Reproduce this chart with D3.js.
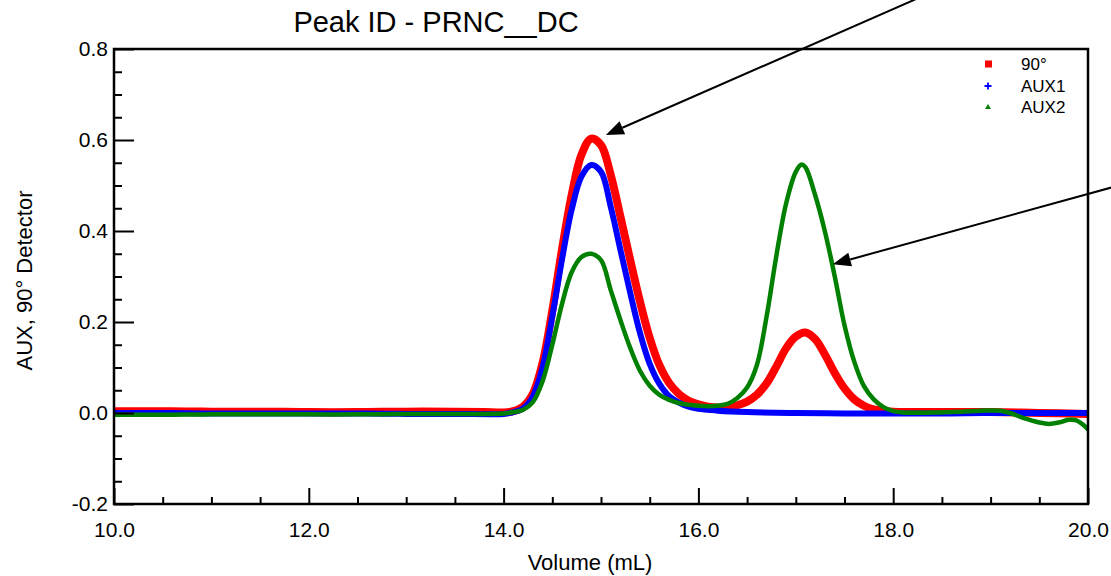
<!DOCTYPE html>
<html>
<head>
<meta charset="utf-8">
<script src="https://cdn.jsdelivr.net/npm/d3@7"></script>
<style>
  html, body { margin: 0; padding: 0; background: #fff; }
  svg { display: block; font-family: "Liberation Sans", Arial, sans-serif; }
</style>
</head>
<body>
<svg id="chart" width="1111" height="576"></svg>
<script>
// ---------- data ----------
const title = "Peak ID - PRNC__DC";
const xLabel = "Volume (mL)";
const yLabel = "AUX, 90° Detector";
const xMajorTicks = [10, 12, 14, 16, 18, 20];
const yMajorTicks = [-0.2, 0.0, 0.2, 0.4, 0.6, 0.8];
const seriesNames = ["90°", "AUX1", "AUX2"];
const seriesColors = ["#ff0000", "#0000ff", "#008000"];

// volume (mL) / value pairs
const red90 = [
  [10.0,0.004],[10.5,0.004],[11.0,0.003],[11.5,0.003],[12.0,0.002],[12.5,0.002],[13.0,0.003],[13.5,0.003],
  [13.8,0.002],[14.0,0.001],[14.1,0.004],[14.2,0.014],[14.3,0.042],[14.4,0.110],[14.5,0.225],[14.6,0.360],
  [14.7,0.480],[14.8,0.568],[14.9,0.603],[15.0,0.589],[15.1,0.523],[15.2,0.431],[15.3,0.336],[15.4,0.245],
  [15.5,0.165],[15.6,0.105],[15.7,0.066],[15.8,0.042],[15.9,0.027],[16.0,0.019],[16.1,0.014],[16.2,0.012],
  [16.3,0.013],[16.4,0.017],[16.5,0.025],[16.6,0.040],[16.7,0.065],[16.8,0.102],[16.9,0.142],[17.0,0.168],
  [17.1,0.177],[17.2,0.162],[17.3,0.128],[17.4,0.088],[17.5,0.054],[17.6,0.030],[17.7,0.016],[17.8,0.008],
  [17.9,0.005],[18.0,0.003],[18.5,0.002],[19.0,0.002],[19.5,0.000],[20.0,-0.002]
];
const blueAux1 = [
  [10.0,0.000],[10.5,0.000],[11.0,-0.001],[11.5,-0.001],[12.0,-0.001],[12.5,-0.001],[13.0,-0.002],[13.5,-0.002],
  [14.0,-0.002],[14.1,0.002],[14.2,0.010],[14.3,0.036],[14.4,0.100],[14.5,0.212],[14.6,0.338],[14.7,0.448],
  [14.8,0.520],[14.9,0.545],[15.0,0.530],[15.1,0.453],[15.2,0.358],[15.3,0.264],[15.4,0.176],[15.5,0.108],
  [15.6,0.064],[15.7,0.037],[15.8,0.023],[15.9,0.014],[16.0,0.009],[16.1,0.007],[16.2,0.005],[16.5,0.002],
  [17.0,0.000],[17.5,-0.001],[18.0,-0.001],[18.5,-0.001],[19.0,0.000],[19.5,0.000],[20.0,0.000]
];
const greenAux2 = [
  [10.0,-0.004],[10.5,-0.004],[11.0,-0.003],[11.5,-0.003],[12.0,-0.003],[12.5,-0.003],[13.0,-0.002],[13.5,-0.002],
  [14.0,-0.001],[14.1,0.002],[14.2,0.007],[14.3,0.024],[14.4,0.070],[14.5,0.150],[14.6,0.240],[14.7,0.310],
  [14.8,0.343],[14.9,0.350],[15.0,0.336],[15.1,0.270],[15.2,0.204],[15.3,0.143],[15.4,0.093],[15.5,0.060],
  [15.6,0.040],[15.7,0.029],[15.8,0.022],[15.9,0.018],[16.0,0.016],[16.1,0.015],[16.2,0.016],[16.3,0.020],
  [16.4,0.033],[16.5,0.056],[16.6,0.105],[16.7,0.212],[16.8,0.345],[16.9,0.460],[17.0,0.530],[17.06,0.546],
  [17.1,0.540],[17.2,0.478],[17.3,0.398],[17.4,0.300],[17.5,0.193],[17.6,0.113],[17.7,0.059],[17.8,0.030],
  [17.9,0.013],[18.0,0.004],[18.1,0.001],[18.4,0.001],[18.7,0.003],[18.9,0.005],[19.1,0.005],[19.2,0.000],
  [19.35,-0.012],[19.5,-0.021],[19.6,-0.024],[19.7,-0.021],[19.8,-0.015],[19.88,-0.016],[19.95,-0.026],[20.0,-0.036]
];
// annotation arrows: [fromX, fromY, toX(tip), toY(tip)] in data units
const arrows = [
  [18.45, 0.93, 15.05, 0.611],
  [20.45, 0.508, 17.38, 0.327]
];

// ---------- layout ----------
const svg = d3.select("#chart");
const L = 114, R = 1088, T = 49, B = 504;
const x = d3.scaleLinear().domain([10, 20]).range([L, R]);
const y = d3.scaleLinear().domain([-0.2, 0.8]).range([B, T]);

svg.append("defs").append("clipPath").attr("id", "plotclip")
  .append("rect").attr("x", L).attr("y", T).attr("width", R - L).attr("height", B - T);

// title
svg.append("text").attr("x", 436).attr("y", 32).attr("text-anchor", "middle")
  .attr("font-size", 29).attr("fill", "#000").text(title);

// curves
const line = d3.line().x(d => x(d[0])).y(d => y(d[1])).curve(d3.curveCatmullRom.alpha(0.5));
const plot = svg.append("g").attr("clip-path", "url(#plotclip)");
const series = [red90, blueAux1, greenAux2];
const widths = [8, 6, 4.5];
series.forEach((s, i) => {
  plot.append("path").datum(s).attr("d", line).attr("fill", "none")
    .attr("stroke", seriesColors[i]).attr("stroke-width", widths[i])
    .attr("stroke-linejoin", "round").attr("stroke-linecap", "round");
});

// axes
const xMinor = d3.range(10, 20.001, 0.5).filter(v => Math.abs(v / 2 - Math.round(v / 2)) > 1e-6);
const yMinor = d3.range(-0.2, 0.8001, 0.05).filter(v => Math.abs(v / 0.2 - Math.round(v / 0.2)) > 1e-6);

const gx = svg.append("g").attr("transform", `translate(0,${B})`)
  .call(d3.axisBottom(x).tickValues(xMajorTicks).tickSizeInner(-16).tickSizeOuter(0).tickPadding(18)
    .tickFormat(d => d.toFixed(1)));
const gxm = svg.append("g").attr("transform", `translate(0,${B})`)
  .call(d3.axisBottom(x).tickValues(xMinor).tickSizeInner(-7).tickSizeOuter(0).tickFormat(""));
const gy = svg.append("g").attr("transform", `translate(${L},0)`)
  .call(d3.axisLeft(y).tickValues(yMajorTicks).tickSizeInner(-20).tickSizeOuter(0).tickPadding(6)
    .tickFormat(d => d.toFixed(1)));
const gym = svg.append("g").attr("transform", `translate(${L},0)`)
  .call(d3.axisLeft(y).tickValues(yMinor).tickSizeInner(-8).tickSizeOuter(0).tickFormat(""));

[gx, gxm, gy, gym].forEach(g => {
  g.select(".domain").remove();
  g.selectAll(".tick line").attr("stroke", "#000").attr("stroke-width", 2);
  g.selectAll(".tick text").attr("font-size", 21).attr("fill", "#000")
    .attr("font-family", "'Liberation Sans', Arial, sans-serif");
});

// frame
svg.append("rect").attr("x", L).attr("y", T).attr("width", R - L).attr("height", B - T)
  .attr("fill", "none").attr("stroke", "#000").attr("stroke-width", 2.5);

// axis labels
svg.append("text").attr("x", 590).attr("y", 570).attr("text-anchor", "middle")
  .attr("font-size", 22).attr("fill", "#000").text(xLabel);
svg.append("text").attr("transform", `translate(32,${(T + B) / 2 + 4}) rotate(-90)`)
  .attr("text-anchor", "middle").attr("font-size", 22).attr("fill", "#000").text(yLabel);

// legend
const legRows = [64, 86, 107];
const leg = svg.append("g");
leg.append("rect").attr("x", 985).attr("y", legRows[0] - 3.5).attr("width", 7).attr("height", 7).attr("fill", seriesColors[0]);
leg.append("path").attr("d", `M984.5,${legRows[1]}h7M988,${legRows[1] - 3.5}v7`).attr("stroke", seriesColors[1]).attr("stroke-width", 1.8);
leg.append("path").attr("d", `M988,${legRows[2] - 3}l3,5h-6z`).attr("fill", seriesColors[2]);
seriesNames.forEach((n, i) => {
  leg.append("text").attr("x", 1021).attr("y", legRows[i]).attr("dy", "0.36em")
    .attr("font-size", 17).attr("fill", "#000").text(n);
});

// arrows
arrows.forEach(a => {
  const x0 = x(a[0]), y0 = y(a[1]), x1 = x(a[2]), y1 = y(a[3]);
  const ang = Math.atan2(y1 - y0, x1 - x0);
  const hl = 18, hw = 7;
  const bx = x1 - hl * Math.cos(ang), by = y1 - hl * Math.sin(ang);
  svg.append("line").attr("x1", x0).attr("y1", y0).attr("x2", bx).attr("y2", by)
    .attr("stroke", "#000").attr("stroke-width", 2);
  svg.append("path").attr("d",
    `M${x1},${y1}L${bx + hw * Math.sin(ang)},${by - hw * Math.cos(ang)}L${bx - hw * Math.sin(ang)},${by + hw * Math.cos(ang)}Z`)
    .attr("fill", "#000");
});
</script>
</body>
</html>
